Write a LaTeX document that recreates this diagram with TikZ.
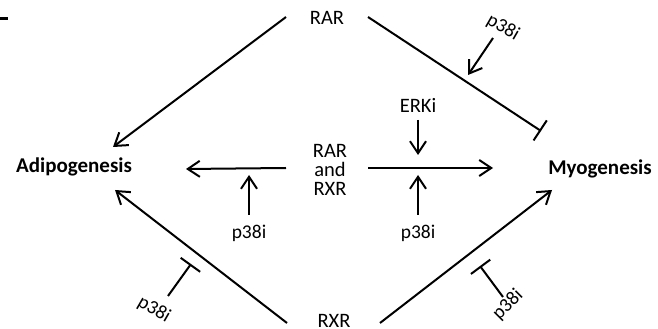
\documentclass[tikz,border=0pt]{standalone}
\usepackage{fontspec}
\setmainfont{Carlito}
\usetikzlibrary{arrows.meta,calc}

\tikzset{
  lbl/.style={inner sep=0pt, font=\fontsize{20.5}{19}\selectfont},
  outcome/.style={inner sep=0pt, font=\fontsize{21}{21}\selectfont\bfseries},
  inhlbl/.style={inner sep=0pt, font=\fontsize{19.5}{19}\selectfont},
  link/.style={line width=2pt},
  act/.style={link, -{Straight Barb[length=12pt,width=16pt,line width=2pt]}},
  inh/.style={link, -{Bar[width=24pt,line width=2pt]}}
}

\begin{document}
\begin{tikzpicture}[x=1pt,y=1pt]
\useasboundingbox (0,0) rectangle (658,329);

% panel mark
\coordinate (markA) at (0,310);
\coordinate (markB) at (8,310);
\draw[line width=3pt] (markA) -- (markB);

% receptors
\node[lbl] (rarT) at (327,311) {RAR};
\node[lbl, align=center] (mid) at (330,159) {RAR\\and\\RXR};
\node[lbl] (rxrB) at (334,8) {RXR};

% outcomes
\node[outcome, anchor=base] (adipo) at (74,156) {Adipogenesis};
\node[outcome, anchor=base] (myo) at (600,154) {Myogenesis};

% inhibitors
\node[lbl] (erki) at (418,224) {ERKi};
\node[inhlbl] (pL) at (249,96) {p38i};
\node[inhlbl] (pR) at (418,96) {p38i};
\node[inhlbl, rotate=-30] (pT) at (503,301) {p38i};
\node[inhlbl, rotate=-30] (pBL) at (154,19) {p38i};
\node[inhlbl, rotate=45] (pBR) at (508,24) {p38i};

% RAR alone
\draw[act] ($(rarT)+(-41,1)$) -- ($(adipo.base)+(39,26)$);
\draw[inh] ($(rarT)+(41,1)$) -- ($(myo.base)+(-59,44)$);
\draw[act] ($(pT)+(-10,-10)$) -- ($(pT)+(-35,-47)$);

% RAR and RXR together
\draw[act] ($(mid)+(-44,2)$) -- ($(adipo.base)+(112,4)$);
\draw[act] ($(mid)+(38,2)$) -- ($(myo.base)+(-107,7)$);
\draw[act] ($(erki)+(0,-15)$) -- ($(erki)+(0,-50)$);
\draw[act] ($(pL)+(0,18)$) -- ($(pL)+(0,58)$);
\draw[act] ($(pR)+(0,18)$) -- ($(pR)+(0,58)$);

% RXR alone
\draw[act] ($(rxrB)+(-47,-2)$) -- ($(adipo.base)+(41,-17)$);
\draw[act] ($(rxrB)+(46,-2)$) -- ($(myo.base)+(-48,-15)$);
\draw[inh] ($(pBL)+(14,14)$) -- ($(pBL)+(37,46)$);
\draw[inh] ($(pBR)+(-5,8)$) -- ($(pBR)+(-28,39)$);
\end{tikzpicture}
\end{document}
